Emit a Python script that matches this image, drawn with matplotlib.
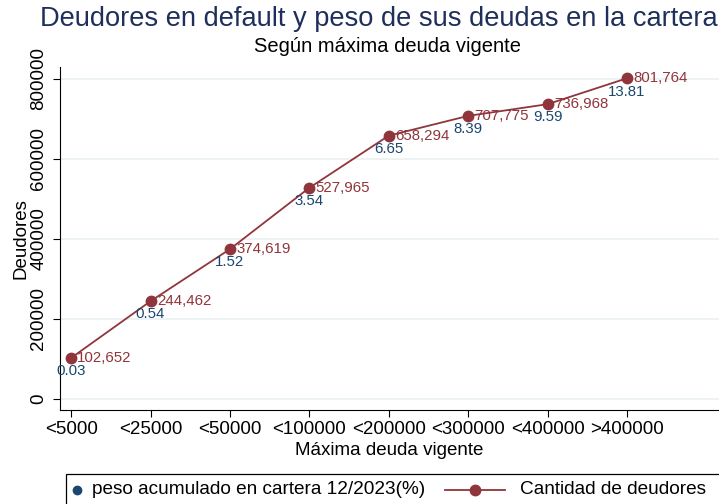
import matplotlib.pyplot as plt
from matplotlib.lines import Line2D
from matplotlib.patches import Rectangle

plt.rcParams['font.family'] = ['Liberation Sans', 'DejaVu Sans']

categorias = ['<5000', '<25000', '<50000', '<100000', '<200000', '<300000', '<400000', '>400000']
deudores = [102652, 244462, 374619, 527965, 658294, 707775, 736968, 801764]
peso = [0.03, 0.54, 1.52, 3.54, 6.65, 8.39, 9.59, 13.81]
yticks = [0, 200000, 400000, 600000, 800000]

rojo = '#90353b'
azul = '#1a476f'

W, H = 719, 504
fig = plt.figure(figsize=(W / 100, H / 100), dpi=100)
ax = fig.add_axes([60 / W, 94 / H, 659 / W, 343 / H])

x = list(range(1, len(categorias) + 1))
ax.plot(x, deudores, color=rojo, lw=1.3, marker='o', ms=7.5, zorder=3)

for xi, d, p in zip(x, deudores, peso):
    ax.annotate(f'{d:,}', (xi, d), xytext=(4.5, 0), textcoords='offset points',
                ha='left', va='center', color=rojo, fontsize=10.8)
    ax.annotate(f'{p:.2f}', (xi, d), xytext=(0, -4.5), textcoords='offset points',
                ha='center', va='top', color=azul, fontsize=10.8)

ax.set_xlim(0.86, 9.16)
ax.set_ylim(-27500, 830000)
ax.set_xticks(x)
ax.set_xticklabels(categorias, fontsize=13.5)
ax.set_yticks(yticks)
ax.set_yticklabels([str(v) for v in yticks], fontsize=13.5, rotation=90, va='center')
ax.tick_params(axis='x', length=5, width=0.8, pad=3)
ax.tick_params(axis='y', length=5, width=0.8, pad=4)
ax.grid(axis='y', color='#eaf0f4', lw=1.2)
ax.set_axisbelow(True)
for s in ['top', 'right']:
    ax.spines[s].set_visible(False)

ax.set_ylabel('Deudores', fontsize=13.5, labelpad=1)
ax.set_xlabel('Máxima deuda vigente', fontsize=13.5, labelpad=3)

fig.text(379 / W, 1 - 19 / H, 'Deudores en default y peso de sus deudas en la cartera',
         ha='center', va='center', fontsize=19.6, color='#1e2f5b')
fig.text(388 / W, 1 - 47 / H, 'Según máxima deuda vigente', ha='center', va='center', fontsize=14.5)

# leyenda dibujada a mano
fig.patches.append(Rectangle((66 / W, -0.05), 700 / W, 0.05 + 30 / H, transform=fig.transFigure,
                             fill=False, edgecolor='black', lw=0.9))
ly = 1 - 490 / H
fig.lines.append(Line2D([77 / W], [ly], transform=fig.transFigure, color=azul,
                        marker='o', ms=6, lw=0))
fig.text(92 / W, ly, 'peso acumulado en cartera 12/2023(%)', ha='left', va='center', fontsize=13.7)
fig.lines.append(Line2D([445 / W, 505 / W], [ly, ly], transform=fig.transFigure, color=rojo,
                        lw=1.3))
fig.lines.append(Line2D([475 / W], [ly], transform=fig.transFigure, color=rojo,
                        marker='o', ms=7.5, lw=0))
fig.text(520 / W, ly, 'Cantidad de deudores', ha='left', va='center', fontsize=13.7)

fig.savefig('out.png', dpi=100)
